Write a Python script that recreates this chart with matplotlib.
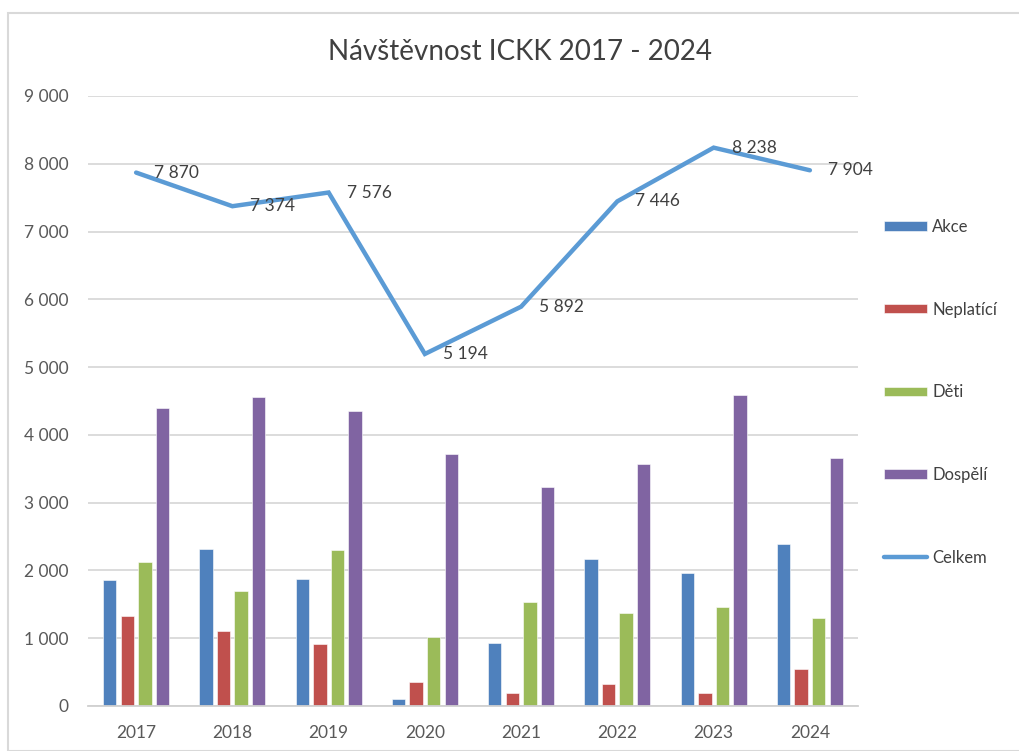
import matplotlib
matplotlib.use("Agg")
import matplotlib.pyplot as plt
from matplotlib.patches import Rectangle
import numpy as np

plt.rcParams["font.family"] = ["Lato", "DejaVu Sans"]

# data
years = ["2017", "2018", "2019", "2020", "2021", "2022", "2023", "2024"]
akce = [1858, 2311, 1873, 99, 929, 2168, 1966, 2389]
neplatici = [1323, 1106, 914, 354, 192, 320, 192, 541]
deti = [2124, 1701, 2301, 1013, 1529, 1372, 1465, 1293]
dospeli = [4400, 4558, 4351, 3712, 3225, 3569, 4592, 3662]
celkem = [7870, 7374, 7576, 5194, 5892, 7446, 8238, 7904]

series = [
    ("Akce", akce, "#4F81BD"),
    ("Neplatící", neplatici, "#C0504D"),
    ("Děti", deti, "#9BBB59"),
    ("Dospělí", dospeli, "#8064A2"),
]

TEXT = "#404040"
GRID = "#D9D9D9"


def fmt(v):
    return f"{v:,.0f}".replace(",", " ")


fig = plt.figure(figsize=(10.19, 7.51), dpi=100)
fig.patches.append(Rectangle((8 / 1019, 0), 1.2, 1 - 13 / 751, transform=fig.transFigure,
                             fill=False, edgecolor="#D9D9D9", linewidth=1.5))

ax = fig.add_axes([88 / 1019, 1 - 706 / 751, (858 - 88) / 1019, (706 - 96) / 751])

x = np.arange(len(years))
slot = 0.182
width = 0.138
for i, (name, vals, color) in enumerate(series):
    ax.bar(x + (i - 1.5) * slot, vals, width, color=color, label=name,
           edgecolor="white", linewidth=0.4, zorder=2)

ax.plot(x, celkem, color="#5B9BD5", linewidth=3.2, label="Celkem", zorder=3,
        solid_capstyle="round", solid_joinstyle="miter")
for xi, v in zip(x, celkem):
    ax.annotate(fmt(v), (xi, v), xytext=(13, 0), textcoords="offset points",
                ha="left", va="center", fontsize=12.5, color=TEXT, zorder=4)

ax.set_xlim(-0.5, len(years) - 0.5)
ax.set_ylim(0, 9000)
ax.set_yticks(range(0, 9001, 1000))
ax.set_yticklabels([fmt(v) for v in range(0, 9001, 1000)])
ax.set_xticks(x)
ax.set_xticklabels(years)
ax.tick_params(axis="both", length=0, labelsize=12.5, colors="#595959")
ax.tick_params(axis="y", pad=14)
ax.tick_params(axis="x", pad=14)

ax.grid(axis="y", color=GRID, linewidth=1.3, zorder=0)
ax.set_axisbelow(True)
for side in ("top", "right", "left"):
    ax.spines[side].set_visible(False)
ax.spines["bottom"].set_color("#D0D0D0")
ax.spines["bottom"].set_linewidth(1.3)

fig.text(520 / 1019, 1 - 52 / 751, "Návštěvnost ICKK 2017 - 2024",
         ha="center", va="center", fontsize=20, color=TEXT)

handles, labels = ax.get_legend_handles_labels()
order = [1, 2, 3, 4, 0]
leg = fig.legend([handles[i] for i in order], [labels[i] for i in order],
                 loc="upper left", bbox_to_anchor=(869 / 1019, 1 - 204 / 751),
                 frameon=False, fontsize=12, labelspacing=4.0,
                 handlelength=2.6, handleheight=0.5, handletextpad=0.3,
                 labelcolor=TEXT)

fig.savefig("out.png", dpi=100)
